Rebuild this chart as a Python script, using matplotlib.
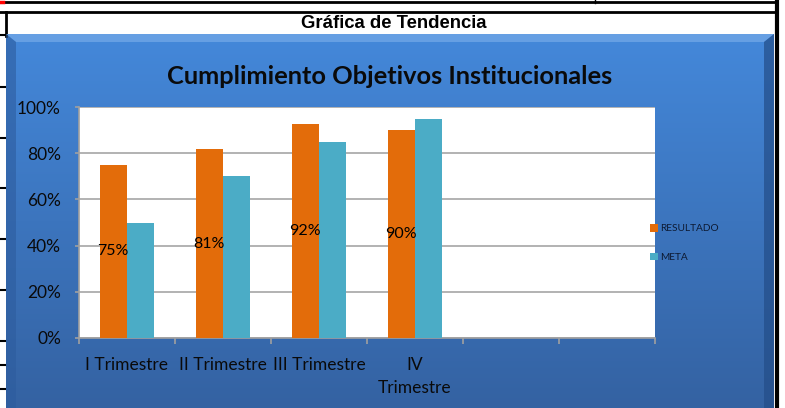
import numpy as np
import matplotlib
matplotlib.use("Agg")
import matplotlib.pyplot as plt
from matplotlib.patches import Rectangle, Polygon

categories = ["I Trimestre", "II Trimestre", "III Trimestre", "IV\nTrimestre", "", ""]
resultado = [0.75, 0.817, 0.925, 0.90]
meta = [0.50, 0.70, 0.85, 0.95]
resultado_labels = ["75%", "81%", "92%", "90%"]
yticks = [0, 0.2, 0.4, 0.6, 0.8, 1.0]
ytick_labels = ["0%", "20%", "40%", "60%", "80%", "100%"]
series_names = ["RESULTADO", "META"]
header = "Gráfica de Tendencia"
title = "Cumplimiento Objetivos Institucionales"

W, H = 785, 408
fig = plt.figure(figsize=(W / 100, H / 100), dpi=100)
fig.patch.set_facecolor("white")

# overlay in pixel coordinates
ov = fig.add_axes([0, 0, 1, 1], zorder=0)
ov.set_xlim(0, W)
ov.set_ylim(H, 0)
ov.axis("off")

# spreadsheet lines
ov.plot([0, 777], [1.5, 1.5], color="black", lw=2)
ov.plot([0, 3], [1.5, 1.5], color="red", lw=2.5)
ov.plot([595, 595], [0, 3], color="black", lw=1)
ov.plot([0, 777], [12, 12], color="black", lw=2)
ov.plot([5.5, 5.5], [12, 36], color="black", lw=2)
ov.plot([777, 777], [0, H], color="black", lw=3)
for yy in [35, 87, 138, 188, 239, 290, 341, 365, 389]:
    ov.plot([0, 5], [yy, yy], color="black", lw=1.5)

ov.text(394, 23, header, ha="center", va="center", fontsize=13.3,
        fontweight="bold", family="Liberation Sans", color="black")

# blue gradient box
x0, x1, y0, y1 = 6, 774, 34, 408
grad = np.linspace(0, 1, 256).reshape(-1, 1)
top = np.array([68, 136, 218]) / 255
bot = np.array([52, 98, 162]) / 255
img = top[None, None, :] * (1 - grad[..., None]) + bot[None, None, :] * grad[..., None]
ov.imshow(img, extent=[x0, x1, y1, y0], aspect="auto", zorder=1)
# bevels
ov.add_patch(Polygon([[x0, y0], [x1, y0], [x1 - 10, y0 + 8], [x0 + 10, y0 + 8]],
                     closed=True, facecolor="#6fa6e6", edgecolor="none", alpha=0.8, zorder=2))
ov.add_patch(Polygon([[x0, y0], [x0 + 10, y0 + 8], [x0 + 10, y1], [x0, y1]],
                     closed=True, facecolor="#2d5c9e", edgecolor="none", alpha=0.6, zorder=2))
ov.add_patch(Polygon([[x1, y0], [x1 - 10, y0 + 8], [x1 - 10, y1], [x1, y1]],
                     closed=True, facecolor="#234d88", edgecolor="none", alpha=0.7, zorder=2))

ov.text(390, 76, title, ha="center", va="center", fontsize=18.3,
        fontweight="bold", family="Lato", color="#0a0a0a", zorder=3)

# chart axes
px0, px1, py0, py1 = 79, 655, 107, 338
ax = fig.add_axes([px0 / W, (H - py1) / H, (px1 - px0) / W, (py1 - py0) / H], zorder=2)
ax.set_facecolor("white")
x = np.arange(len(categories))
bw = 0.286
b1 = ax.bar(x[:len(resultado)] - bw / 2, resultado, bw, color="#E36C0A", label=series_names[0], zorder=3)
b2 = ax.bar(x[:len(meta)] + bw / 2, meta, bw, color="#4BACC6", label=series_names[1], zorder=3)
for rect, lab in zip(b1, resultado_labels):
    ax.text(rect.get_x() + rect.get_width() / 2, rect.get_height() / 2, lab,
            ha="center", va="center", fontsize=11.5, family="Lato", color="black", zorder=4)

ax.set_xlim(-0.5, len(categories) - 0.5)
ax.set_ylim(0, 1.0)
ax.set_yticks(yticks)
ax.set_yticklabels(ytick_labels, family="Lato", fontsize=12.5, color="#0a0a0a")
ax.set_xticks(x)
ax.set_xticklabels(categories, family="Lato", fontsize=12.5, color="#0a0a0a", linespacing=1.5)
ax.set_xticks(np.arange(-0.5, len(categories)), minor=True)
ax.tick_params(axis="x", which="major", length=0, pad=14)
ax.tick_params(axis="x", which="minor", length=4, color="#a0a0a0", width=1.2)
ax.tick_params(axis="y", length=3, color="#a0a0a0", width=1.2, pad=10)
ax.grid(axis="y", color="#a6a6a6", lw=1.2, zorder=1)
for s in ["top", "right"]:
    ax.spines[s].set_visible(False)
for s in ["left", "bottom"]:
    ax.spines[s].set_color("#a0a0a0")
    ax.spines[s].set_linewidth(1.2)

leg = ax.legend(loc="center left", bbox_to_anchor=(641 / W, (H - 243) / H),
                bbox_transform=fig.transFigure, frameon=False, fontsize=7.3,
                handlelength=0.75, handleheight=0.75, handletextpad=0.2, labelspacing=1.9)
for t in leg.get_texts():
    t.set_color("#0d1a33")
    t.set_family("Lato")

fig.savefig("out.png", dpi=100)
